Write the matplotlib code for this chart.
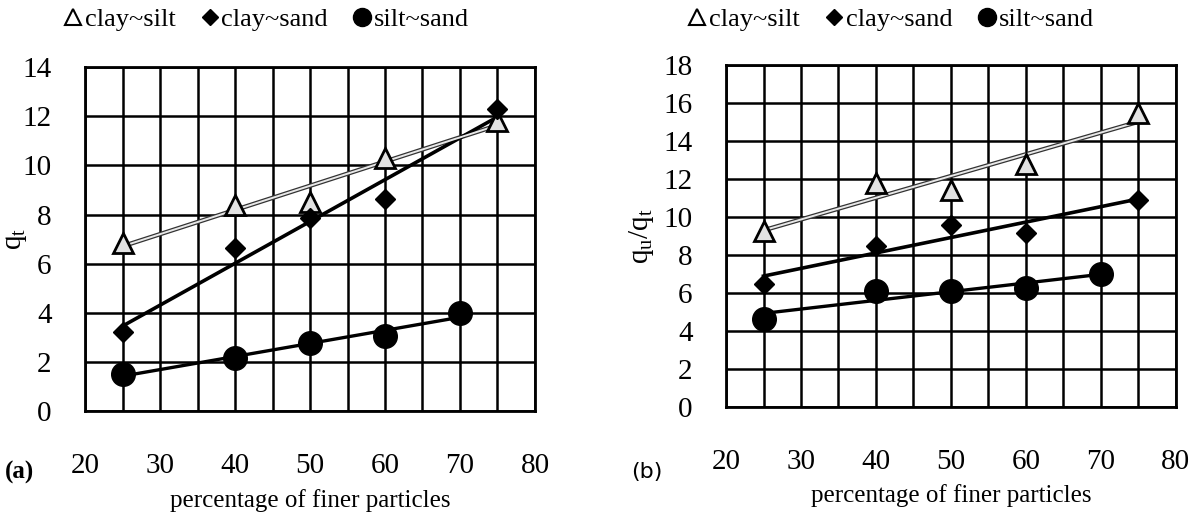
import matplotlib
matplotlib.use('Agg')
import matplotlib.pyplot as plt
import numpy as np
from matplotlib.lines import Line2D

plt.rcParams['font.family'] = 'Liberation Serif'
plt.rcParams['mathtext.fontset'] = 'custom'
plt.rcParams['mathtext.rm'] = 'Liberation Serif'
plt.rcParams['mathtext.it'] = 'Liberation Serif'

# Data
pct = [25, 40, 50, 60, 75]
pct_ss = [25, 40, 50, 60, 70]

# (a) q_t
qt_clay_silt = [6.85, 8.4, 8.5, 10.3, 11.8]
qt_clay_sand = [3.2, 6.64, 7.84, 8.62, 12.28]
qt_silt_sand = [1.5, 2.18, 2.76, 3.07, 4.0]

# (b) q_u/q_t
ratio_clay_silt = [9.27, 11.8, 11.42, 12.8, 15.5]
ratio_clay_sand = [6.47, 8.48, 9.58, 9.18, 10.9]
ratio_silt_sand = [4.63, 6.12, 6.12, 6.26, 7.0]

font_size = 18

fig = plt.figure(figsize=(12.03, 5.12), dpi=100)
ax1 = fig.add_axes([0.0707, 0.197, 0.374, 0.672])
ax2 = fig.add_axes([0.6035, 0.205, 0.374, 0.668])


def trend(ax, x, y, **kw):
    # linear trendline like Excel
    k, b = np.polyfit(x, y, 1)
    xs = np.array([x[0], x[-1]])
    ax.plot(xs, k * xs + b, **kw)


def draw(ax, cs, cd, ss, ymax, ylabel, ylab_x):
    # clay~silt: double (outlined) light line
    trend(ax, pct, cs, color='#333333', lw=3.2, zorder=3)
    trend(ax, pct, cs, color='#e8e8e8', lw=1.4, zorder=3.1)
    trend(ax, pct, cd, color='black', lw=2.6, zorder=3)
    trend(ax, pct_ss, ss, color='black', lw=2.4, zorder=3)
    ax.plot(pct, cs, ls='none', marker='^', ms=14, mfc='#e2e2e2', mec='black',
            mew=2, zorder=4)
    ax.plot(pct, cd, ls='none', marker='D', ms=10.5, mfc='black', mec='black',
            zorder=4)
    ax.plot(pct_ss, ss, ls='none', marker='o', ms=17, mfc='black', mec='black',
            zorder=4)

    ax.set_xlim(20, 80)
    ax.set_ylim(0, ymax)
    ax.set_xticks(range(20, 81, 10))
    ax.set_xticks(range(25, 80, 10), minor=True)
    ax.set_yticks(range(0, ymax + 1, 2))
    ax.grid(True, which='both', axis='x', color='black', lw=1.8)
    ax.grid(True, which='major', axis='y', color='black', lw=1.8)
    ax.tick_params(which='both', length=0, labelsize=font_size + 3)
    ax.tick_params(axis='x', pad=30)
    ax.tick_params(axis='y', pad=24)
    for s in ax.spines.values():
        s.set_linewidth(2)
    ax.set_xlabel('percentage of finer particles', fontsize=font_size,
                  labelpad=7)
    ax.set_ylabel(ylabel, fontsize=font_size + 3)
    ax.yaxis.set_label_coords(ylab_x, 0.5)


draw(ax1, qt_clay_silt, qt_clay_sand, qt_silt_sand, 14,
     r'$\mathregular{q_t}$', -0.125)
draw(ax2, ratio_clay_silt, ratio_clay_sand, ratio_silt_sand, 18,
     r'$\mathregular{q_u/q_t}$', -0.155)

# Legends on top
handles = [
    Line2D([], [], ls='none', marker='^', ms=11, mfc='white', mec='black', mew=1.5),
    Line2D([], [], ls='none', marker='D', ms=8, mfc='black', mec='black'),
    Line2D([], [], ls='none', marker='o', ms=13, mfc='black', mec='black'),
]
labels = ['clay~silt', 'clay~sand', 'silt~sand']
for cx in [0.222, 0.741]:
    fig.legend(handles, labels, loc='center', bbox_to_anchor=(cx, 0.962),
               ncol=3, frameon=False, fontsize=font_size + 1,
               handlelength=0.6, handletextpad=0.15, columnspacing=1.0)

fig.text(0.004, 0.066, '(a)', fontsize=font_size, fontweight='bold')
fig.text(0.525, 0.066, '(b)', fontsize=font_size - 2, family='DejaVu Sans')

fig.savefig('out.png', dpi=100)
